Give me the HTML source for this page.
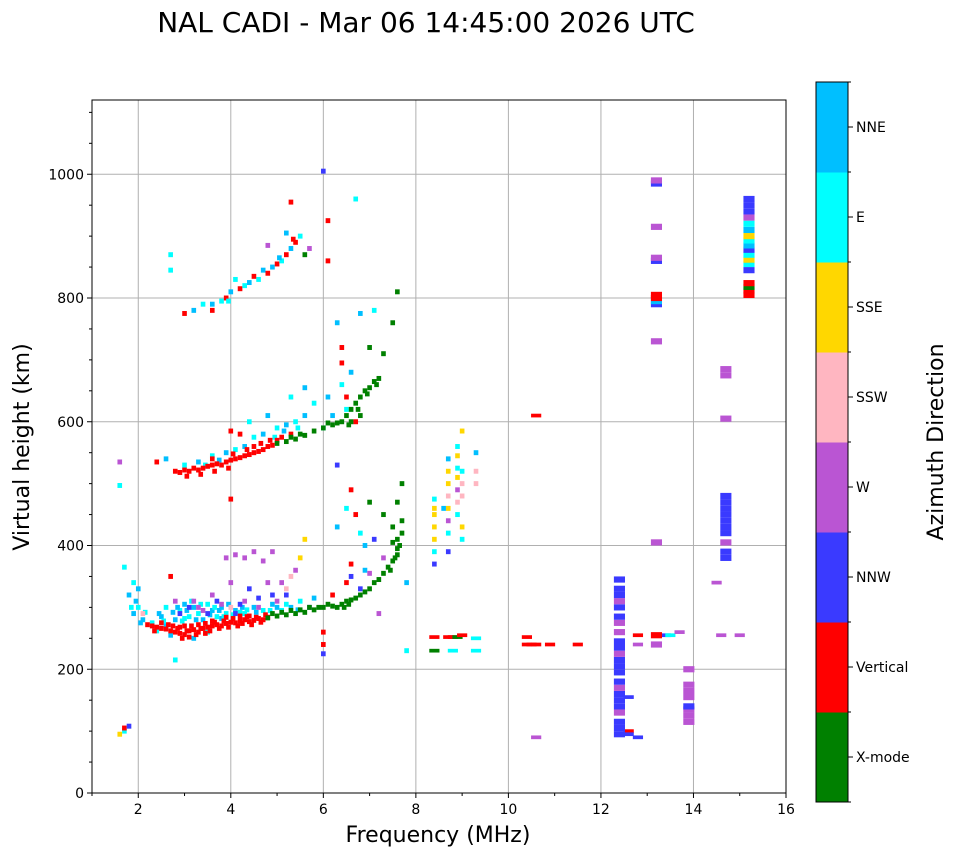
<!DOCTYPE html>
<html><head><meta charset="utf-8"><style>
html,body{margin:0;padding:0;background:#fff;}
svg{display:block;font-family:"DejaVu Sans","Liberation Sans",sans-serif;}
</style></head><body>
<svg id="chart" width="958" height="857" viewBox="0 0 958 857" xmlns="http://www.w3.org/2000/svg">
<text x="426" y="32" font-size="28" text-anchor="middle">NAL CADI - Mar 06 14:45:00 2026 UTC</text>
<g id="grid"></g>
<g id="marks"></g>
<rect x="92" y="100" width="694" height="693" fill="none" stroke="#000" stroke-width="1"/>
<g id="axes"></g>
<text x="438" y="842" font-size="22" text-anchor="middle">Frequency (MHz)</text>
<text transform="translate(29,447) rotate(-90)" font-size="22" text-anchor="middle">Virtual height (km)</text>
<g id="cbar"></g>
<text transform="translate(943,442) rotate(-90)" font-size="22" text-anchor="middle">Azimuth Direction</text>
</svg>
<script>
const directions = ["X-mode","Vertical","NNW","W","SSW","SSE","E","NNE"];
const dirColors = ["#008000","#ff0000","#3a3aff","#ba55d3","#ffb6c1","#ffd700","#00ffff","#00bfff"];
const xTicks = [2,4,6,8,10,12,14,16];
const yTicks = [0,200,400,600,800,1000];

const lowRed = [[2.2,272,1],[2.3,270,1],[2.4,268,1],[2.5,266,1],[2.6,265,1],[2.7,262,1],[2.8,260,1],[2.9,258,1],[3.0,256,1],[3.1,262,1],[3.2,264,1],[3.3,260,1],[3.4,266,1],[3.5,268,1],[3.6,270,1],[3.7,272,1],[3.8,270,1],[3.9,274,1],[4.0,276,1],[4.1,275,1],[4.2,278,1],[4.3,280,1],[4.4,277,1],[4.5,279,1],[4.6,282,1],[4.7,280,1],[3.0,270,1],[3.3,272,1],[3.6,278,1],[3.9,284,1],[4.2,286,1],[2.9,268,1],[4.8,284,1],[2.5,275,1],[3.1,252,1],[4.4,286,1]];
const lowRedExtra = [[2.35,262,1],[2.65,272,1],[2.85,266,1],[2.95,250,1],[3.05,262,1],[3.15,270,1],[3.25,256,1],[3.35,266,1],[3.45,274,1],[3.55,262,1],[3.65,276,1],[3.75,266,1],[3.85,278,1],[3.95,268,1],[4.05,282,1],[4.15,270,1],[4.25,274,1],[4.35,285,1],[4.45,272,1],[4.55,284,1],[4.65,276,1],[4.75,288,1],[3.45,258,1],[2.75,270,1]];
const lowCyan = [[1.9,290,7],[2.0,300,6],[2.1,280,7],[2.3,275,6],[2.5,285,7],[2.6,300,6],[2.8,280,7],[2.9,295,6],[3.0,305,7],[3.1,285,6],[3.2,300,7],[3.3,290,6],[3.4,280,7],[3.5,305,6],[3.6,295,7],[3.7,285,6],[3.8,300,7],[3.9,290,6],[4.1,295,7],[4.3,290,6],[4.5,300,7],[4.7,295,6],[4.9,305,7],[5.1,295,6],[5.3,300,7],[5.5,310,6],[5.8,315,7],[2.4,262,6],[3.2,250,7],[2.7,255,7],[1.8,320,7],[1.9,340,6],[1.7,365,6],[2.0,330,7],[2.6,270,7],[3.5,260,6],[3.0,282,6],[3.8,282,7],[4.2,292,6]];
const lowCyanExtra = [[2.05,275,7],[2.15,292,6],[2.45,290,7],[2.55,278,6],[2.75,292,7],[2.95,278,6],[3.05,295,7],[3.15,310,6],[3.25,280,7],[3.35,305,6],[3.55,288,7],[3.65,300,6],[3.75,295,7],[3.85,285,6],[3.95,305,7],[4.05,288,6],[4.25,300,7],[4.35,296,6],[4.55,292,7],[4.85,295,6],[5.0,300,7],[5.2,305,6],[5.45,296,7],[2.85,300,7],[1.95,310,7],[1.85,300,6]];
const lowOther = [[3.9,380,3],[4.1,385,3],[4.3,380,3],[4.5,390,3],[4.7,375,3],[4.9,390,3],[4.0,340,3],[4.4,330,2],[3.7,310,2],[3.3,300,3],[2.8,310,3],[4.6,315,2],[5.0,310,3],[5.2,330,4],[5.3,350,4],[5.5,380,5],[5.6,410,5],[5.4,360,3],[5.2,320,2],[4.8,340,3],[3.1,300,2],[3.6,320,3],[4.2,305,2],[5.7,300,2],[6.2,320,1],[6.5,340,1],[6.6,350,2],[6.8,330,2],[2.1,290,4],[3.4,295,3],[4.0,300,4],[4.6,300,3],[3.5,290,2],[3.8,305,3],[4.1,290,2],[4.3,310,3],[4.9,320,2],[5.1,340,3],[2.9,290,2],[3.2,310,3]];
const lowGreen = [[4.8,283,0],[5.0,286,0],[5.2,288,0],[5.4,290,0],[5.6,292,0],[5.8,296,0],[6.0,300,0],[6.2,302,0],[6.4,305,0],[6.5,310,0],[6.6,312,0],[6.7,315,0],[6.8,320,0],[6.9,325,0],[7.0,330,0],[7.1,340,0],[7.2,345,0],[7.3,355,0],[7.4,365,0],[7.5,375,0],[7.6,385,0],[7.6,395,0],[7.6,410,0],[7.7,420,0],[7.7,440,0],[7.6,470,0],[7.7,500,0],[7.0,470,0],[7.3,450,0],[7.5,430,0],[5.9,300,0],[6.3,300,0],[4.9,290,0],[5.1,292,0],[5.3,295,0],[5.5,296,0],[5.7,300,0],[6.1,305,0],[6.45,300,0],[6.55,305,0],[7.45,360,0],[7.55,380,0],[7.65,400,0],[7.5,405,0]];
const midOther = [[6.3,430,7],[6.5,460,6],[6.6,490,1],[6.7,450,1],[6.8,420,6],[6.9,400,7],[7.1,410,2],[6.6,370,1],[6.9,360,7],[7.3,380,3],[7.8,340,7],[7.8,230,6],[6.0,260,1],[6.0,240,1],[6.0,225,2],[2.8,215,6],[2.7,350,1],[1.7,100,6],[1.7,105,1],[1.8,108,2],[1.6,95,5],[1.6,535,3],[1.6,497,6],[7.2,290,3],[7.0,355,3]];
const hop2Red = [[2.8,520,1],[2.9,518,1],[3.0,522,1],[3.1,520,1],[3.2,525,1],[3.3,522,1],[3.4,525,1],[3.5,528,1],[3.6,530,1],[3.7,532,1],[3.8,530,1],[3.9,535,1],[4.0,538,1],[4.1,540,1],[4.2,542,1],[4.3,545,1],[4.4,547,1],[4.5,550,1],[4.6,552,1],[4.7,555,1],[4.8,560,1],[4.9,562,1],[5.0,570,1],[2.4,535,1],[4.0,585,1],[4.2,580,1],[3.6,540,1],[4.5,560,1],[4.0,475,1],[6.4,720,1],[6.4,695,1],[6.5,640,1],[6.7,600,1],[6.3,530,2],[6.1,925,1],[3.05,512,1],[3.35,515,1],[3.65,520,1],[3.95,525,1],[4.05,548,1],[4.35,555,1],[4.65,565,1],[4.85,570,1],[5.1,575,1],[5.3,580,1]];
const hop2Cyan = [[2.6,540,7],[3.0,530,6],[3.3,535,7],[3.6,545,6],[3.9,550,7],[4.1,555,6],[4.3,560,7],[4.5,575,6],[4.7,580,7],[5.0,590,6],[5.2,595,7],[5.4,600,6],[5.6,610,7],[5.8,630,6],[6.1,640,7],[6.4,660,6],[6.6,680,7],[4.4,600,6],[4.8,610,7],[5.3,640,6],[5.6,655,7],[6.0,590,6],[6.3,760,7],[6.8,775,7],[7.1,780,6],[6.7,960,6],[3.45,530,6],[3.75,538,7],[4.95,575,6],[5.15,585,7],[5.45,590,6],[6.2,610,7],[6.5,620,6]];
const hop2Green = [[5.0,565,0],[5.2,568,0],[5.4,572,0],[5.6,578,0],[5.8,585,0],[6.0,590,0],[6.2,595,0],[6.4,600,0],[6.5,610,0],[6.6,620,0],[6.7,630,0],[6.8,640,0],[6.9,650,0],[7.0,655,0],[7.1,665,0],[7.2,670,0],[7.0,720,0],[7.3,710,0],[7.5,760,0],[7.6,810,0],[6.6,600,0],[6.8,610,0],[5.3,575,0],[5.5,580,0],[6.1,598,0],[6.3,598,0],[6.55,595,0],[6.75,620,0],[6.95,645,0],[7.15,660,0]];
const hop3 = [[3.0,775,1],[3.2,780,7],[3.4,790,6],[3.6,780,1],[3.8,795,6],[3.9,800,1],[4.0,810,7],[4.2,815,1],[4.4,825,7],[4.6,830,6],[4.8,840,1],[4.9,850,7],[5.0,855,1],[5.1,860,6],[5.2,870,1],[5.3,880,7],[5.4,890,1],[5.5,900,6],[5.6,870,0],[4.8,885,3],[5.2,905,7],[5.7,880,3],[6.0,1005,2],[2.7,870,6],[2.7,845,6],[5.3,955,1],[4.1,830,6],[3.6,790,7],[6.1,860,1],[4.3,820,6],[4.7,845,7],[5.05,865,7],[5.35,895,1],[4.5,835,1],[3.95,795,6]];
const cluster9 = [[8.4,370,2],[8.4,390,6],[8.4,410,5],[8.4,430,5],[8.4,450,5],[8.4,460,5],[8.4,475,6],[8.7,390,2],[8.7,420,6],[8.7,440,3],[8.7,460,5],[8.7,480,4],[8.7,500,5],[8.7,520,5],[8.7,540,7],[8.9,450,6],[8.9,470,4],[8.9,490,3],[8.9,510,5],[8.9,525,6],[8.9,545,5],[8.9,560,6],[9.0,480,4],[9.0,500,4],[9.0,520,6],[9.0,585,5],[9.0,430,5],[9.0,410,6],[9.3,520,4],[9.3,550,7],[9.3,500,4],[8.6,460,7]];
const lines250 = [[8.4,252,1],[8.7,252,1],[8.8,252,1],[8.9,252,0],[9.0,255,1],[8.4,230,0],[8.8,230,6],[9.3,250,6],[9.3,230,6],[10.4,252,1],[10.4,240,1],[10.5,240,1],[10.6,240,1],[10.9,240,1],[11.5,240,1],[10.6,610,1],[10.6,90,3],[12.6,100,1],[12.6,95,2],[12.8,90,2],[12.8,255,1],[12.8,240,3],[12.6,155,2],[13.4,255,2],[13.5,255,6],[13.7,260,3],[14.5,340,3],[14.6,255,3],[15.0,255,3]];
const columns = [[12.4,95,2],[12.4,105,2],[12.4,115,2],[12.4,130,3],[12.4,140,2],[12.4,150,2],[12.4,160,2],[12.4,170,3],[12.4,180,2],[12.4,195,2],[12.4,205,2],[12.4,215,2],[12.4,225,3],[12.4,235,2],[12.4,245,2],[12.4,260,3],[12.4,275,3],[12.4,285,2],[12.4,300,2],[12.4,310,3],[12.4,320,2],[12.4,330,2],[12.4,345,2],
[13.2,240,3],[13.2,255,1],[13.2,405,3],[13.2,730,3],[13.2,790,2],[13.2,795,7],[13.2,800,1],[13.2,805,1],[13.2,860,2],[13.2,865,3],[13.2,915,3],[13.2,985,2],[13.2,990,3],
[13.9,115,3],[13.9,125,3],[13.9,135,3],[13.9,140,2],[13.9,155,3],[13.9,165,3],[13.9,175,3],[13.9,200,3],
[14.7,380,2],[14.7,390,2],[14.7,405,3],[14.7,420,2],[14.7,430,2],[14.7,440,2],[14.7,450,2],[14.7,460,2],[14.7,470,2],[14.7,480,2],[14.7,605,3],[14.7,675,3],[14.7,685,3],
[15.2,805,1],[15.2,812,1],[15.2,818,0],[15.2,824,1],[15.2,845,2],[15.2,855,6],[15.2,862,5],[15.2,870,6],[15.2,878,2],[15.2,885,7],[15.2,893,6],[15.2,900,5],[15.2,910,7],[15.2,920,6],[15.2,930,3],[15.2,940,2],[15.2,950,2],[15.2,960,2]];

const X0=92, X1=786, Y0=793, Y1=100;
const xs = f => X0 + (f-1)/15*(X1-X0);
const ys = h => Y0 - h/1120*(Y0-Y1);
const NS="http://www.w3.org/2000/svg";
function mk(tag, attrs, parent){const e=document.createElementNS(NS,tag);for(const k in attrs)e.setAttribute(k,attrs[k]);parent.appendChild(e);return e;}

const grid=document.getElementById('grid'), axes=document.getElementById('axes'), marks=document.getElementById('marks');
xTicks.forEach(t=>{
  const x=xs(t);
  if(t<16){const g=mk('line',{x1:x,x2:x,y1:Y1,y2:Y0,stroke:'#b0b0b0','stroke-width':1},grid);
  
  }
  mk('line',{x1:x,x2:x,y1:Y0,y2:Y0+5,stroke:'#000'},axes);
  const tx=mk('text',{x:x,y:Y0+21,'font-size':14,'text-anchor':'middle'},axes);tx.textContent=t;
  
  
});
for(let m=1;m<16;m+=2){const x=xs(m);mk('line',{x1:x,x2:x,y1:Y0,y2:Y0+3,stroke:'#000'},axes);}
yTicks.forEach(t=>{
  const y=ys(t);
  if(t>0){const g=mk('line',{x1:X0,x2:X1,y1:y,y2:y,stroke:'#b0b0b0','stroke-width':1},grid);
  
  }
  mk('line',{x1:X0-5,x2:X0,y1:y,y2:y,stroke:'#000'},axes);
  const tx=mk('text',{x:X0-8,y:y+5,'font-size':14,'text-anchor':'end'},axes);tx.textContent=t;
  
  
});
for(let m=50;m<1120;m+=50){if(m%200===0)continue;const y=ys(m);mk('line',{x1:X0-3,x2:X0,y1:y,y2:y,stroke:'#000'},axes);}

function drawCells(arr, w, hk, name){
  arr.forEach(p=>{
    const x=xs(p[0]-w/2), x2=xs(p[0]+w/2), y=ys(p[1]+hk/2), y2=ys(p[1]-hk/2);
    const r=mk('rect',{x:x,y:y,width:x2-x,height:y2-y,fill:dirColors[p[2]]},marks);
    
    
  });
}
[lowCyan,lowCyanExtra,lowOther,lowRed,lowRedExtra,lowGreen,midOther,hop2Cyan,hop2Red,hop2Green,hop3,cluster9].forEach(a=>drawCells(a,0.1,8,'echo-cell'));
drawCells(lines250,0.22,6,'echo-cell');
drawCells(columns,0.24,10,'column-cell');

const cb=document.getElementById('cbar');
const CX=816, CW=32, CT=82, CB=802, seg=(CB-CT)/directions.length;
directions.forEach((d,i)=>{
  const y=CB-(i+1)*seg;
  const r=mk('rect',{x:CX,y:y,width:CW,height:seg+0.5,fill:dirColors[i]},cb);
  
  
  mk('line',{x1:CX+CW,x2:CX+CW+5,y1:y+seg/2,y2:y+seg/2,stroke:'#000'},cb);
  const t=mk('text',{x:CX+CW+8,y:y+seg/2+5,'font-size':14},cb);t.textContent=d;
  
  
});
for(let i=0;i<=directions.length;i++){const y=CT+i*seg;mk('line',{x1:CX+CW,x2:CX+CW+3,y1:y,y2:y,stroke:'#000'},cb);}
mk('rect',{x:CX,y:CT,width:CW,height:CB-CT,fill:'none',stroke:'#000'},cb);
</script>
</body></html>
